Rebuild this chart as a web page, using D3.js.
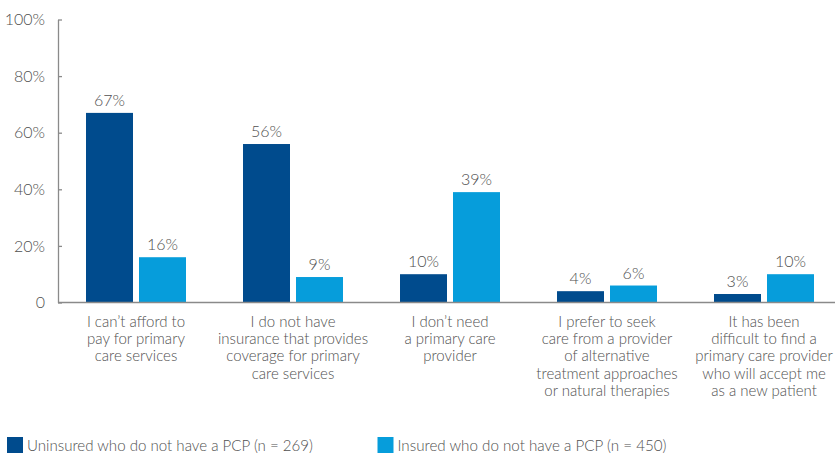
<!DOCTYPE html>
<html>
<head>
<meta charset="utf-8">
<script src="https://cdn.jsdelivr.net/npm/d3@7"></script>
<style>
  body { margin: 0; background: #fff; }
  svg { display: block; font-family: Lato, "Open Sans", sans-serif; font-weight: 300; }
</style>
</head>
<body>
<svg width="835" height="453"></svg>
<script>
const CATEGORIES = [
  ["I can\u2019t afford to", "pay for primary", "care services"],
  ["I do not have", "insurance that provides", "coverage for primary", "care services"],
  ["I don\u2019t need", "a primary care", "provider"],
  ["I prefer to seek", "care from a provider", "of alternative", "treatment approaches", "or natural therapies"],
  ["It has been", "difficult to find a", "primary care provider", "who will accept me", "as a new patient"],
];
const SERIES = ["Uninsured who do not have a PCP (n = 269)", "Insured who do not have a PCP (n = 450)"];
const UNINSURED = [67, 56, 10, 4, 3];
const INSURED = [16, 9, 39, 6, 10];
const Y_TICKS = [0, 20, 40, 60, 80, 100];
const COLORS = ["#004b8d", "#069ddb"];

const values = [UNINSURED, INSURED];
const rows = CATEGORIES.map((c, i) => ({ i, lines: c, vals: values.map((v) => v[i]) }));

const svg = d3.select("svg");
const textColor = "#505050";

const x0 = d3.scaleBand().domain(d3.range(CATEGORIES.length)).range([57.5, 842.5]).padding(0);
const x1 = d3.scaleBand().domain([0, 1]).range([0, x0.bandwidth()])
  .paddingInner(6 / 53).paddingOuter(0.538);
const y = d3.scaleLinear().domain([0, 100]).range([302.5, 19.5]);

// y axis
const yAxis = svg.append("g").attr("transform", "translate(58,0)")
  .call(d3.axisLeft(y).tickValues(Y_TICKS).tickSizeInner(-4).tickSizeOuter(0)
    .tickPadding(13).tickFormat((d) => (d === 0 ? "0" : d + "%")));
yAxis.select(".domain").attr("stroke", "#8a8a8a").attr("stroke-width", 1.3);
yAxis.selectAll(".tick line").attr("stroke", "#8a8a8a").attr("stroke-width", 1.3);
yAxis.selectAll(".tick text").attr("fill", textColor).style("font-size", "16px")
  .style("font-family", "Lato, 'Open Sans', sans-serif").style("font-weight", 300);

// bars
const groups = svg.selectAll(".grp").data(rows).enter().append("g")
  .attr("transform", (d) => `translate(${x0(d.i)},0)`);

groups.selectAll("rect").data((d) => d.vals).enter().append("rect")
  .attr("x", (v, j) => x1(j))
  .attr("width", x1.bandwidth())
  .attr("y", (v) => y(v))
  .attr("height", (v) => y(0) - y(v))
  .attr("fill", (v, j) => COLORS[j]);

groups.selectAll(".val").data((d) => d.vals).enter().append("text")
  .attr("x", (v, j) => x1(j) + x1.bandwidth() / 2)
  .attr("y", (v) => y(v) - 7)
  .attr("text-anchor", "middle")
  .attr("fill", textColor)
  .style("font-size", "16px")
  .text((v) => v + "%");

// baseline
svg.append("line").attr("x1", 58).attr("x2", 835).attr("y1", y(0)).attr("y2", y(0))
  .attr("stroke", "#8a8a8a").attr("stroke-width", 1.5);

// category labels
groups.append("text")
  .attr("text-anchor", "middle")
  .attr("fill", textColor)
  .style("font-size", "15px")
  .selectAll("tspan").data((d) => d.lines).enter().append("tspan")
  .attr("x", x0.bandwidth() / 2)
  .attr("y", (l, k) => 327 + k * 17.2)
  .text((l) => l);

// legend
const legendX = [7, 377.5];
const legendW = [286, 269];
const legend = svg.selectAll(".leg").data(SERIES).enter().append("g")
  .attr("transform", (d, j) => `translate(${legendX[j]},0)`);
legend.append("rect").attr("x", 0).attr("y", 437).attr("width", 16).attr("height", 16)
  .attr("fill", (d, j) => COLORS[j]);
legend.append("text").attr("x", 20).attr("y", 451)
  .attr("fill", textColor)
  .style("font-size", "15px")
  .attr("textLength", (d, j) => legendW[j])
  .attr("lengthAdjust", "spacingAndGlyphs")
  .text((d) => d);
</script>
</body>
</html>
